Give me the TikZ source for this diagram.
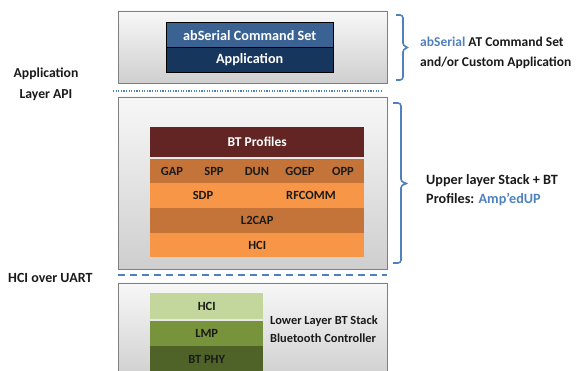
\documentclass[tikz,border=0pt]{standalone}
\usepackage{fontspec}
\setmainfont{Carlito}
\definecolor{bracecol}{HTML}{4F81BD}
\definecolor{linkblue}{HTML}{4F81BD}
\definecolor{blueA}{HTML}{3A6293}
\definecolor{blueB}{HTML}{17365D}
\definecolor{maroon}{HTML}{632523}
\definecolor{orangeD}{HTML}{C47438}
\definecolor{orangeL}{HTML}{F79646}
\definecolor{greenL}{HTML}{C3D69B}
\definecolor{greenM}{HTML}{77933C}
\definecolor{greenD}{HTML}{4F6228}
\definecolor{boxedge}{HTML}{7F7F7F}
\definecolor{txt}{HTML}{1A1A1A}
\begin{document}
\begin{tikzpicture}[x=1pt,y=-1pt,
  layerbox/.style={draw=boxedge,line width=0.8pt,top color=gray!6,bottom color=gray!38},
  rowbox/.style={inner sep=0pt,font=\bfseries\fontsize{12.5}{14}\selectfont,text=txt},
  bigrow/.style={rowbox,font=\bfseries\fontsize{14.2}{16}\selectfont},
  sidetext/.style={font=\bfseries\fontsize{13.5}{15}\selectfont,text=txt,align=left,inner sep=0pt},
  bracepath/.style={draw=bracecol,line width=1.6pt,rounded corners=3pt},
]
\useasboundingbox (0,0) rectangle (579,371);
% layer boxes
\path[layerbox] (118,11) rectangle (387,83);
\path[layerbox] (118,97) rectangle (387,269);
\path[layerbox] (118,283) rectangle (387,380);
% separators
\draw[bracecol,line width=1.6pt,dash pattern=on 1.2pt off 1.4pt] (113,91) -- (381,91);
\draw[bracecol,line width=1.4pt,dash pattern=on 7pt off 5pt] (118,275) -- (387,275);
% application stack
\node[bigrow,fill=blueA,text=white,minimum width=167pt,minimum height=24pt,anchor=north west] (abs) at (166,23) {abSerial Command Set};
\node[bigrow,fill=blueB,text=white,minimum width=167pt,minimum height=25pt,anchor=north west] (app) at (166,47) {Application};
\draw[black,line width=1pt] (abs.north west) rectangle (app.south east);
\draw[black,line width=0.6pt] (abs.south west) -- (abs.south east);
% BT profiles stack
\node[rowbox,font=\bfseries\fontsize{13.5}{15}\selectfont,fill=maroon,text=white,minimum width=214pt,minimum height=30pt,anchor=north west] (prof) at (150,127) {BT Profiles};
\node[rowbox,fill=orangeD,minimum width=214pt,minimum height=24pt,anchor=north west] (rowA) at (150,159) {};
\node[rowbox,fill=orangeL,minimum width=214pt,minimum height=25pt,anchor=north west] (rowB) at (150,183) {};
\node[rowbox,fill=orangeD,minimum width=214pt,minimum height=25pt,anchor=north west] (l2cap) at (150,208) {L2CAP};
\node[rowbox,fill=orangeL,minimum width=214pt,minimum height=24pt,anchor=north west] (hciU) at (150,233) {HCI};
\node[rowbox] (gap) at (172,171) {GAP};
\node[rowbox] (spp) at (214,171) {SPP};
\node[rowbox] (dun) at (257,171) {DUN};
\node[rowbox] (goep) at (300,171) {GOEP};
\node[rowbox] (opp) at (343,171) {OPP};
\node[rowbox] (sdp) at (203,195.5) {SDP};
\node[rowbox] (rfcomm) at (311,195.5) {RFCOMM};
% lower stack
\node[rowbox,fill=greenL,minimum width=113pt,minimum height=26pt,anchor=north west] (hciL) at (150,293) {HCI};
\node[rowbox,fill=greenM,minimum width=113pt,minimum height=25pt,anchor=north west] (lmp) at (150,321) {LMP};
\node[rowbox,fill=greenD,minimum width=113pt,minimum height=26pt,anchor=north west] (phy) at (150,346) {BT PHY};
\node[sidetext,anchor=west,font=\bfseries\fontsize{12.4}{17.5}\selectfont] (lower) at (270,329) {Lower Layer BT Stack\\Bluetooth Controller};
% left labels
\node[sidetext,align=center,font=\bfseries\fontsize{13.7}{21}\selectfont] (api) at (46,84.5) {Application\\Layer API};
\node[sidetext,anchor=west,font=\bfseries\fontsize{14}{16}\selectfont] (uart) at (8,278) {HCI over UART};
% braces
\draw[bracepath] (396,15) -- (403,15) -- (403,46) -- (409,47.5) -- (403,49) -- (403,80) -- (396,80);
\draw[bracepath] (393,103) -- (401,103) -- (401,182) -- (408,183.5) -- (401,185) -- (401,263) -- (393,263);
\node[sidetext,anchor=west,font=\bfseries\fontsize{13.5}{20}\selectfont] (toptext) at (420,53) {\textcolor{linkblue}{abSerial} AT Command Set\\and/or Custom Application};
\node[sidetext,anchor=west,font=\bfseries\fontsize{14.2}{19}\selectfont] (midtext) at (426,190.5) {Upper layer Stack + BT\\Profiles: \textcolor{linkblue}{Amp’edUP}};
\end{tikzpicture}
\end{document}
